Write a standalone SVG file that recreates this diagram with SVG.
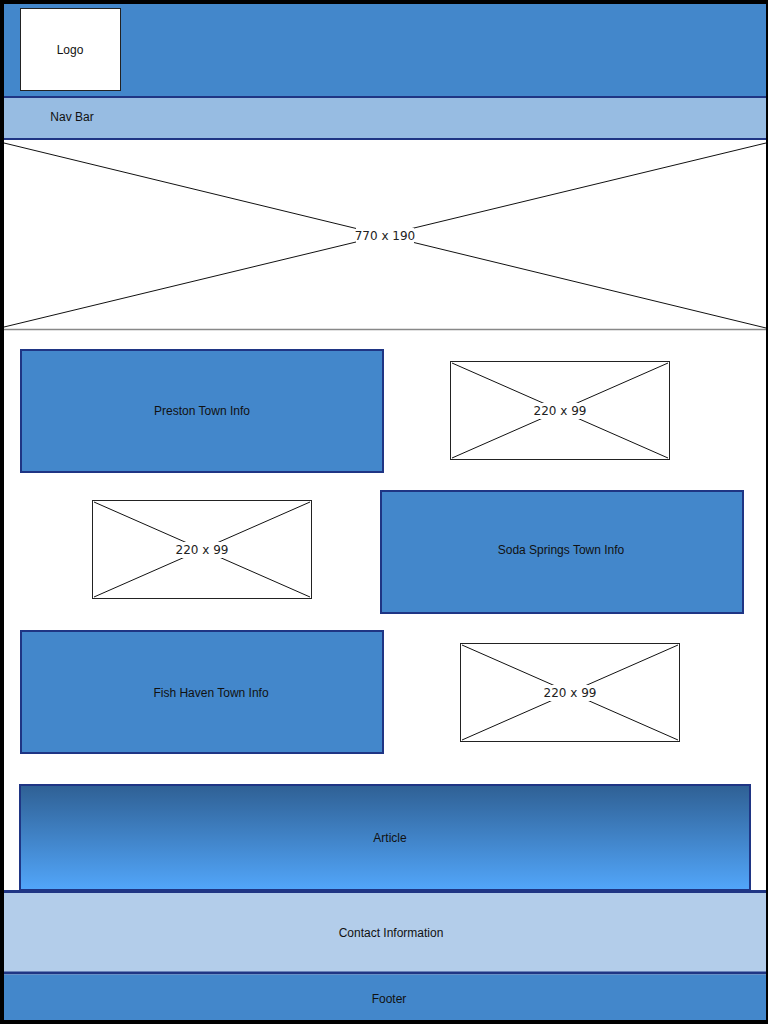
<svg xmlns="http://www.w3.org/2000/svg" width="768" height="1024" viewBox="0 0 768 1024">
<defs>
<linearGradient id="artGrad" x1="0" y1="0" x2="0" y2="1">
<stop offset="0" stop-color="#2f6094"/>
<stop offset="1" stop-color="#52a6fa"/>
</linearGradient>
</defs>
<style>
.blue{fill:#4387cb;stroke:#1f3584;stroke-width:2}
.lbl{font-family:"Comic Sans MS","Liberation Sans",sans-serif;font-size:12px;fill:#111;text-anchor:middle;dominant-baseline:central}
.ph{fill:#fff;stroke:#222;stroke-width:1}
.x{stroke:#111;stroke-width:1}
.phl{font-family:"DejaVu Sans","Liberation Sans",sans-serif;font-size:12px;fill:#222;text-anchor:middle;dominant-baseline:central}
</style>
<rect x="0" y="0" width="768" height="1024" fill="#000"/>
<g id="header">
<rect x="4" y="4" width="762" height="93" fill="#4387cb"/>
<line x1="4" y1="97" x2="766" y2="97" stroke="#1f3584" stroke-width="2"/>
</g>
<g id="logo">
<rect x="20.5" y="8.5" width="100" height="82" fill="#fff" stroke="#222" stroke-width="1"/>
<text class="lbl" x="70" y="50">Logo</text>
</g>
<g id="navbar">
<rect x="4" y="98" width="762" height="41" fill="#97bce2"/>
<line x1="4" y1="139" x2="766" y2="139" stroke="#1f3584" stroke-width="2"/>
<text class="lbl" x="72" y="117">Nav Bar</text>
</g>
<g id="body">
<rect x="4" y="140" width="762" height="880" fill="#fff"/>
</g>
<g id="hero">
<line x1="4" y1="329.5" x2="766" y2="329.5" stroke="#888" stroke-width="1.5"/>
<line class="x" x1="4" y1="143" x2="766" y2="328"/>
<line class="x" x1="4" y1="327" x2="766" y2="143"/>
<rect x="356" y="228" width="58" height="16" fill="#fff"/>
<text class="phl" x="385" y="236">770 x 190</text>
</g>
<g id="preston">
<rect class="blue" x="21" y="350" width="362" height="122"/>
<text class="lbl" x="202" y="411">Preston Town Info</text>
</g>
<g id="img1">
<rect class="ph" x="450.5" y="361.5" width="219" height="98"/>
<line class="x" x1="452" y1="363" x2="668" y2="458"/>
<line class="x" x1="452" y1="458" x2="668" y2="363"/>
<rect x="532" y="403" width="56" height="16" fill="#fff"/>
<text class="phl" x="560" y="411">220 x 99</text>
</g>
<g id="img2">
<rect class="ph" x="92.5" y="500.5" width="219" height="98"/>
<line class="x" x1="94" y1="502" x2="310" y2="597"/>
<line class="x" x1="94" y1="597" x2="310" y2="502"/>
<rect x="174" y="542" width="56" height="16" fill="#fff"/>
<text class="phl" x="202" y="550">220 x 99</text>
</g>
<g id="soda">
<rect class="blue" x="381" y="491" width="362" height="122"/>
<text class="lbl" x="561" y="550">Soda Springs Town Info</text>
</g>
<g id="fish">
<rect class="blue" x="21" y="631" width="362" height="122"/>
<text class="lbl" x="211" y="693">Fish Haven Town Info</text>
</g>
<g id="img3">
<rect class="ph" x="460.5" y="643.5" width="219" height="98"/>
<line class="x" x1="462" y1="645" x2="678" y2="740"/>
<line class="x" x1="462" y1="740" x2="678" y2="645"/>
<rect x="542" y="685" width="56" height="16" fill="#fff"/>
<text class="phl" x="570" y="693">220 x 99</text>
</g>
<g id="article">
<rect x="20" y="785" width="730" height="105" fill="url(#artGrad)" stroke="#1f3584" stroke-width="2"/>
<text class="lbl" x="390" y="838">Article</text>
</g>
<g id="contact">
<rect x="4" y="892" width="762" height="80" fill="#b3cdea"/>
<line x1="4" y1="891.5" x2="766" y2="891.5" stroke="#1f3584" stroke-width="3"/>
<line x1="4" y1="973" x2="766" y2="973" stroke="#1f3584" stroke-width="3"/>
<text class="lbl" x="391" y="933">Contact Information</text>
</g>
<g id="footer">
<rect x="4" y="974.5" width="762" height="45.5" fill="#4387cb"/>
<text class="lbl" x="389" y="999">Footer</text>
</g>
<g id="connectors"></g>
</svg>
